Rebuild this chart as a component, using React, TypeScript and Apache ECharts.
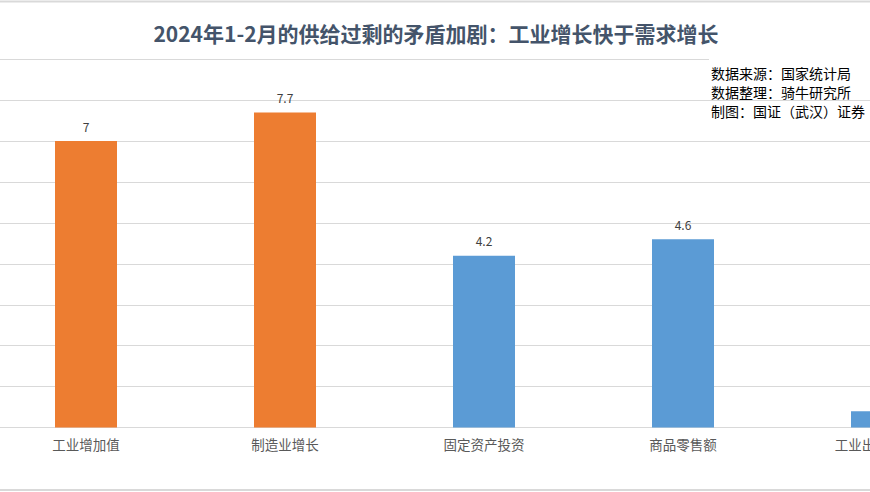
import React, { useEffect, useRef } from "react";
import * as echarts from "echarts";

const categories = ["工业增加值", "制造业增长", "固定资产投资", "商品零售额", "工业出口交货值"];
const values = [7, 7.7, 4.2, 4.6, 0.4];
const barColors = ["#ED7D31", "#ED7D31", "#5B9BD5", "#5B9BD5", "#5B9BD5"];
const titleText = "2024年1-2月的供给过剩的矛盾加剧：工业增长快于需求增长";
const sourceLines = ["数据来源：国家统计局", "数据整理：骑牛研究所", "制图：国证（武汉）证券"];

const OFF = 20; // chart canvas starts 20px left of the visible frame
const CW = 1020;

export default function App() {
  const ref = useRef<HTMLDivElement>(null);
  useEffect(() => {
    if (!ref.current) return;
    const chart = echarts.init(ref.current, undefined, { renderer: "svg" });
    const font = '"Noto Sans CJK SC", "Microsoft YaHei", sans-serif';
    chart.setOption({
      animation: false,
      backgroundColor: "#ffffff",
      textStyle: { fontFamily: font },
      grid: { left: OFF - 13.5, right: CW - (OFF + 981.5), top: 59.3, bottom: 64.5 },
      xAxis: {
        type: "category",
        data: categories,
        axisLine: { lineStyle: { color: "#d9d9d9", width: 1 } },
        axisTick: { show: false },
        axisLabel: { color: "#595959", fontSize: 13.5, margin: 10, fontFamily: font },
      },
      yAxis: {
        type: "value",
        min: 0,
        max: 9,
        interval: 1,
        axisLabel: { show: false },
        axisLine: { show: false },
        axisTick: { show: false },
        splitLine: { lineStyle: { color: "#d9d9d9", width: 1 } },
      },
      series: [
        {
          type: "bar",
          barWidth: 62,
          data: values.map((v, i) => ({ value: v, itemStyle: { color: barColors[i] } })),
          label: {
            show: true,
            position: "top",
            distance: 9,
            color: "#404040",
            fontSize: 12,
            fontFamily: font,
          },
        },
      ],
      graphic: [
        { type: "line", shape: { x1: 0, y1: 1.5, x2: CW, y2: 1.5 }, style: { stroke: "#d9d9d9", lineWidth: 2 } },
        { type: "line", shape: { x1: 0, y1: 490, x2: CW, y2: 490 }, style: { stroke: "#d9d9d9", lineWidth: 2 } },
        {
          type: "text",
          x: OFF + 436,
          y: 33,
          style: {
            text: titleText,
            fontSize: 21,
            fontWeight: "bold",
            fill: "#44546A",
            fontFamily: font,
            textAlign: "center",
            textVerticalAlign: "middle",
          },
        },
        { type: "rect", shape: { x: OFF + 709, y: 57, width: 200, height: 40 }, style: { fill: "#ffffff" }, z: 10 },
        ...sourceLines.map((t, i) => ({
          type: "text",
          x: OFF + 711,
          y: 73 + i * 19,
          z: 11,
          style: {
            text: t,
            fontSize: 14,
            fill: "#000000",
            fontFamily: font,
            textVerticalAlign: "middle",
          },
        })),
      ],
    });
    return () => chart.dispose();
  }, []);
  return (
    <div style={{ position: "fixed", left: 0, top: 0, width: 870, height: 492, overflow: "hidden", background: "#fff" }}>
      <div ref={ref} style={{ position: "absolute", left: -OFF, top: 0, width: CW, height: 492 }} />
    </div>
  );
}
